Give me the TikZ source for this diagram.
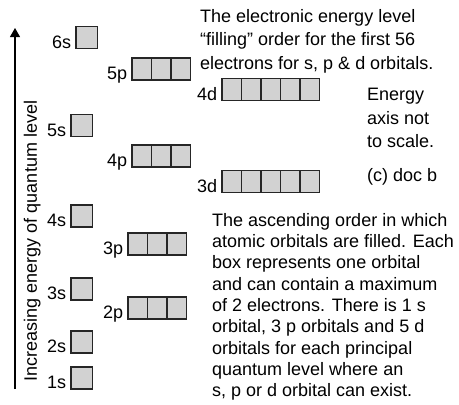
\documentclass[tikz,border=0pt]{standalone}
\usepackage{fontspec}
\setmainfont{Liberation Sans}
\usetikzlibrary{arrows.meta}
\usetikzlibrary{positioning}

\begin{document}
\begin{tikzpicture}[x=1pt,y=-1pt]
  \tikzstyle{cell}=[draw=black!85,fill=gray!35,line width=1.1pt,inner sep=0pt,minimum height=22pt]
  \tikzstyle{lbl}=[inner sep=0pt,font=\fontsize{18}{22}\selectfont]
  \tikzstyle{note}=[lbl,align=left,anchor=north west]

  \useasboundingbox (0,0) rectangle (459,405);

  % AXIS
  \coordinate (low) at (15,389);
  \coordinate (high) at (15,28);
  \draw[line width=1.1pt,-{Triangle[length=9pt,width=10pt]}] (low) -- (high);
  \node[lbl,rotate=90,anchor=base] (axis) at (37,241) {Increasing energy of quantum level};

  % ORBITALS: name / left / middle / boxes / box width
  \foreach \lab/\x/\y/\n/\w in {1s/71/378/1/21.5, 2s/71/342/1/21.5, 2p/128/308/3/19.5,
      3s/71/289/1/21.5, 3p/128/244/3/19.5, 4s/71/216/1/21.5, 3d/222/181.5/5/19.5,
      4p/132/156/3/19.5, 5s/71/125.5/1/21.5, 4d/222/89.5/5/19.5, 5p/132/69/3/19.5,
      6s/76/37.5/1/21.5}{
      \foreach \i [evaluate={\c=\x+(\i-0.5)*\w;}] in {1,...,\n}{
          \node[cell,minimum width=\w pt] (\lab-\i) at (\c,\y) {};
        }
      \node[lbl,anchor=base east] (\lab) at ([xshift=-4pt,yshift=1pt]\lab-1.south west) {\lab};
    }

  % NOTES
  \node[note,font=\fontsize{18}{23.5}\selectfont] (title) at (200,9)
  {The electronic energy level\\“filling” order for the first 56\\electrons for s, p \& d orbitals.};
  \node[note,font=\fontsize{18}{23.5}\selectfont] (scale) at (367,88) {Energy\\axis not\\to scale.};
  \node[note] (credit) at (367,168) {(c) doc b};
  \node[note,font=\fontsize{18}{21.3}\selectfont] (info) at (212,213)
  {The ascending order in which\\atomic orbitals are filled. Each\\box represents one orbital\\and can contain a maximum\\of 2 electrons. There is 1 s\\orbital, 3 p orbitals and 5 d\\orbitals for each principal\\quantum level where an\\s, p or d orbital can exist.};
\end{tikzpicture}
\end{document}
